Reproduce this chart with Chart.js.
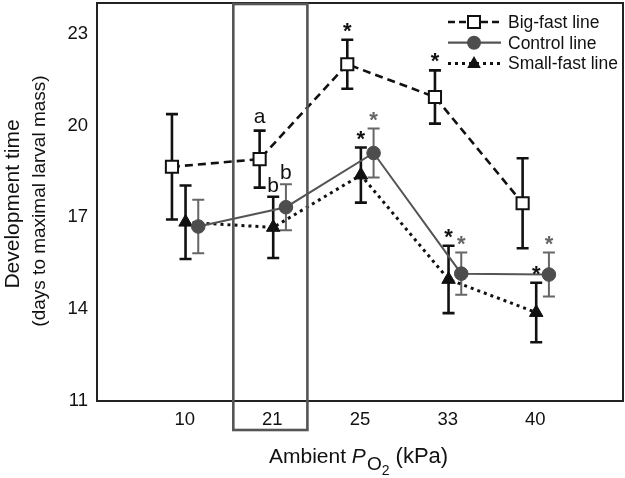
<!DOCTYPE html>
<html lang="en">
<head>
<meta charset="UTF-8">
<title>Development time vs ambient PO2</title>
<script src="https://cdn.jsdelivr.net/npm/chart.js"></script>
<style>
  html, body { margin: 0; padding: 0; background: #fff; }
  #wrap { width: 625px; height: 478px; }
</style>
</head>
<body>
<div id="wrap"><canvas id="grafico" width="625" height="478"></canvas></div>
<script>
// dados
const pressoes = ['10', '21', '25', '33', '40'];
const yTicks = [11, 14, 17, 20, 23];

const bigFast = [18.65, 18.9, 22.0, 20.93, 17.46];
const bigFastErr = [1.72, 0.93, 0.8, 0.87, 1.47];
const bigFastMarcas = ['', 'a', '*', '*', ''];

const controle = [16.7, 17.33, 19.1, 15.16, 15.13];
const controleErr = [0.87, 0.75, 0.8, 0.69, 0.72];
const controleMarcas = ['', 'b', '*', '*', '*'];

const smallFast = [16.84, 16.67, 18.38, 14.97, 13.89];
const smallFastErr = [1.2, 1.0, 0.9, 1.1, 0.97];
const smallFastMarcas = ['', 'b', '*', '*', '*'];

const FONTE = "'Liberation Sans', Arial, sans-serif";
const CINZA = '#4d4d4d';

function pontos(valores, desloc) {
  return valores.map((v, i) => ({ x: i + 1 + desloc, y: v }));
}

const series = [
  { label: 'Control line', valores: controle, erros: controleErr, marcas: controleMarcas,
    desloc: 0.155, cor: CINZA, corErro: '#666', larguraErro: 2, corMarca: '#666' },
  { label: 'Small-fast line', valores: smallFast, erros: smallFastErr, marcas: smallFastMarcas,
    desloc: 0.01, cor: '#111', corErro: '#111', larguraErro: 2.6, corMarca: '#111' },
  { label: 'Big-fast line', valores: bigFast, erros: bigFastErr, marcas: bigFastMarcas,
    desloc: -0.145, cor: '#111', corErro: '#111', larguraErro: 2.6, corMarca: '#111' },
];

const dados = {
  datasets: [
    {
      label: 'Control line',
      data: pontos(controle, series[0].desloc),
      borderColor: '#555',
      borderWidth: 2,
      pointStyle: 'circle',
      pointRadius: 6.8,
      pointBackgroundColor: CINZA,
      pointBorderColor: CINZA,
      pointBorderWidth: 1,
    },
    {
      label: 'Small-fast line',
      data: pontos(smallFast, series[1].desloc),
      borderColor: '#111',
      borderWidth: 3,
      borderDash: [3, 4],
      pointStyle: 'triangle',
      pointRadius: 7.8,
      pointBackgroundColor: '#111',
      pointBorderColor: '#111',
      pointBorderWidth: 1,
    },
    {
      label: 'Big-fast line',
      data: pontos(bigFast, series[2].desloc),
      borderColor: '#111',
      borderWidth: 2.6,
      borderDash: [8, 5],
      pointStyle: 'rect',
      pointRadius: 8.6,
      pointBackgroundColor: '#fff',
      pointBorderColor: '#111',
      pointBorderWidth: 2,
    },
  ],
};

function desenharMarcador(ctx, tipo, x, y) {
  ctx.save();
  ctx.setLineDash([]);
  if (tipo === 'rect') {
    ctx.fillStyle = '#fff';
    ctx.strokeStyle = '#111';
    ctx.lineWidth = 2;
    ctx.fillRect(x - 6, y - 6, 12, 12);
    ctx.strokeRect(x - 6, y - 6, 12, 12);
  } else if (tipo === 'circle') {
    ctx.fillStyle = CINZA;
    ctx.beginPath();
    ctx.arc(x, y, 7, 0, Math.PI * 2);
    ctx.fill();
  } else {
    ctx.fillStyle = '#111';
    ctx.beginPath();
    ctx.moveTo(x, y - 7.5);
    ctx.lineTo(x + 6.8, y + 4.5);
    ctx.lineTo(x - 6.8, y + 4.5);
    ctx.closePath();
    ctx.fill();
  }
  ctx.restore();
}

const extras = {
  id: 'extras',
  beforeDatasetsDraw(chart) {
    const ctx = chart.ctx;
    const y = chart.scales.y;
    ctx.save();
    series.forEach((s, i) => {
      const meta = chart.getDatasetMeta(i);
      ctx.strokeStyle = s.corErro;
      ctx.lineWidth = s.larguraErro;
      meta.data.forEach((p, j) => {
        const topo = y.getPixelForValue(s.valores[j] + s.erros[j]);
        const base = y.getPixelForValue(s.valores[j] - s.erros[j]);
        ctx.beginPath();
        ctx.moveTo(p.x, topo);
        ctx.lineTo(p.x, base);
        ctx.moveTo(p.x - 6, topo);
        ctx.lineTo(p.x + 6, topo);
        ctx.moveTo(p.x - 6, base);
        ctx.lineTo(p.x + 6, base);
        ctx.stroke();
      });
    });
    ctx.restore();
  },
  afterDatasetsDraw(chart) {
    const ctx = chart.ctx;
    const { left, right, top, bottom } = chart.chartArea;
    const x = chart.scales.x;
    const y = chart.scales.y;
    ctx.save();

    // letras e asteriscos
    ctx.textAlign = 'center';
    ctx.textBaseline = 'alphabetic';
    series.forEach((s, i) => {
      const meta = chart.getDatasetMeta(i);
      meta.data.forEach((p, j) => {
        const m = s.marcas[j];
        if (!m) return;
        const topo = y.getPixelForValue(s.valores[j] + s.erros[j]);
        ctx.fillStyle = s.corMarca;
        if (m === '*') {
          ctx.font = 'bold 22px ' + FONTE;
          ctx.fillText(m, p.x, topo - 2);
        } else {
          ctx.font = '21px ' + FONTE;
          ctx.fillStyle = '#111';
          ctx.fillText(m, p.x, topo - (m === 'a' ? 8 : 5));
        }
      });
    });

    // moldura
    ctx.strokeStyle = '#222';
    ctx.lineWidth = 2;
    ctx.strokeRect(left, top, right - left, bottom - top);

    // caixa em volta de 21 kPa
    ctx.strokeStyle = '#555';
    ctx.lineWidth = 2.6;
    const x0 = x.getPixelForValue(1.555);
    const x1 = x.getPixelForValue(2.4);
    ctx.strokeRect(x0, top + 1, x1 - x0, 430 - top - 1);

    // legenda
    const linhas = [
      { txt: 'Big-fast line', tipo: 'rect', cor: '#111', dash: [7, 4], lw: 2.6 },
      { txt: 'Control line', tipo: 'circle', cor: '#555', dash: [], lw: 2.2 },
      { txt: 'Small-fast line', tipo: 'triangle', cor: '#111', dash: [3, 4], lw: 3 },
    ];
    ctx.font = '17.5px ' + FONTE;
    ctx.textAlign = 'left';
    ctx.textBaseline = 'middle';
    linhas.forEach((l, k) => {
      const ly = 22 + k * 20.7;
      ctx.strokeStyle = l.cor;
      ctx.lineWidth = l.lw;
      ctx.setLineDash(l.dash);
      ctx.beginPath();
      ctx.moveTo(448, ly);
      ctx.lineTo(501, ly);
      ctx.stroke();
      ctx.setLineDash([]);
      desenharMarcador(ctx, l.tipo, 474, ly);
      ctx.fillStyle = '#111';
      ctx.fillText(l.txt, 508, ly + 1);
    });

    // titulos dos eixos
    ctx.fillStyle = '#111';
    ctx.textAlign = 'center';
    ctx.textBaseline = 'middle';
    ctx.save();
    ctx.translate(13, 204);
    ctx.rotate(-Math.PI / 2);
    ctx.font = '21px ' + FONTE;
    ctx.fillText('Development time', 0, 0);
    ctx.restore();
    ctx.save();
    ctx.translate(40, 201);
    ctx.rotate(-Math.PI / 2);
    ctx.font = '19px ' + FONTE;
    ctx.fillText('(days to maximal larval mass)', 0, 0);
    ctx.restore();

    ctx.textAlign = 'left';
    ctx.textBaseline = 'alphabetic';
    let cx = 269;
    const by = 463;
    ctx.font = '21px ' + FONTE;
    ctx.fillText('Ambient ', cx, by);
    cx += ctx.measureText('Ambient ').width;
    ctx.font = 'italic 21px ' + FONTE;
    ctx.fillText('P', cx, by);
    cx += ctx.measureText('P').width + 1;
    ctx.font = '19px ' + FONTE;
    ctx.fillText('O', cx, by + 7);
    cx += ctx.measureText('O').width;
    ctx.font = '14px ' + FONTE;
    ctx.fillText('2', cx, by + 12);
    cx += ctx.measureText('2').width;
    ctx.font = '22px ' + FONTE;
    ctx.fillText(' (kPa)', cx, by);

    ctx.restore();
  },
};

const config = {
  type: 'line',
  data: dados,
  options: {
    responsive: false,
    animation: false,
    layout: { autoPadding: false, padding: { left: 0, right: 2, top: 3, bottom: 0 } },
    plugins: {
      legend: { display: false },
      tooltip: { enabled: false },
    },
    scales: {
      x: {
        type: 'linear',
        min: 0,
        max: 6,
        grid: { display: false, drawTicks: false },
        border: { display: false },
        afterBuildTicks: (eixo) => {
          eixo.ticks = pressoes.map((_, i) => ({ value: i + 1 }));
        },
        afterFit: (eixo) => {
          eixo.height = 77;
          eixo.paddingLeft = 0;
          eixo.paddingRight = 0;
        },
        ticks: {
          padding: 8,
          color: '#111',
          font: { family: FONTE, size: 18.5 },
          callback: (v) => pressoes[v - 1],
        },
      },
      y: {
        min: 11,
        max: 24,
        grid: { display: false, drawTicks: false },
        border: { display: false },
        afterBuildTicks: (eixo) => {
          eixo.ticks = yTicks.map((v) => ({ value: v }));
        },
        afterFit: (eixo) => {
          eixo.width = 97;
          eixo.paddingTop = 0;
          eixo.paddingBottom = 0;
        },
        ticks: {
          padding: 9,
          color: '#111',
          font: { family: FONTE, size: 18.5 },
        },
      },
    },
  },
  plugins: [extras],
};

let grafico = new Chart(document.getElementById('grafico').getContext('2d'), config);
</script>
</body>
</html>
